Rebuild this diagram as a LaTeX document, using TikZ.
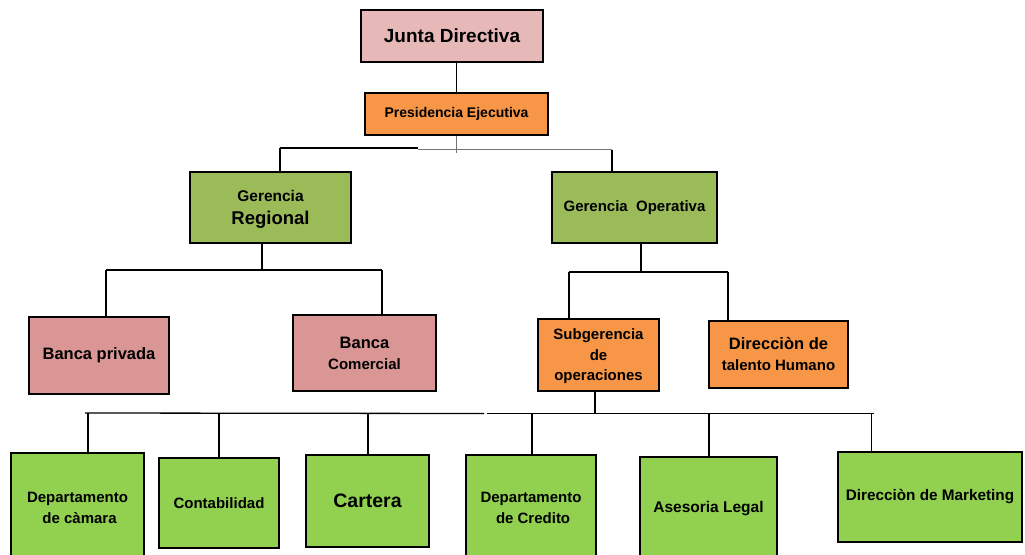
\documentclass[tikz,border=0pt]{standalone}
\usepackage{fontspec}
\setmainfont{Liberation Sans}
\definecolor{juntapink}{HTML}{E6B9B8}
\definecolor{orangebox}{HTML}{F79646}
\definecolor{olivegreen}{HTML}{9BBB59}
\definecolor{rosebox}{HTML}{D99694}
\definecolor{limegreen}{HTML}{92D050}
\newcommand{\fs}[2]{\fontsize{#1}{#2}\selectfont}
\tikzset{
  box/.style={draw=black, line width=2.4pt, align=center,
              font=\bfseries\fs{15}{21}, inner sep=0pt, text=black},
  conn/.style={line width=1.3pt, black},
  faint/.style={line width=0.9pt, black!55},
}
\begin{document}
\begin{tikzpicture}[x=1pt,y=-1pt]
\clip (0,0) rectangle (1025,554);
\fill[white] (0,0) rectangle (1025,554);

% top levels
\node[box, fill=juntapink, minimum width=182, minimum height=52,
      font=\bfseries\fs{19}{22}] (junta) at (452,36) {Junta Directiva};
\node[box, fill=orangebox, minimum width=183, minimum height=42,
      font=\bfseries\fs{14}{17}] (pres) at (456.5,114) {Presidencia Ejecutiva};

% management
\node[box, fill=olivegreen, minimum width=161, minimum height=71,
      font=\bfseries\fs{15.5}{23}, text depth=-2pt] (gr) at (270.5,207.5)
  {Gerencia\\{\fs{18.5}{20}Regional}};
\node[box, fill=olivegreen, minimum width=165, minimum height=71] (go) at (634.5,207.5)
  {Gerencia\ \ Operativa};

% banking units
\node[box, fill=rosebox, minimum width=140, minimum height=77,
      font=\bfseries\fs{16.5}{21}] (bp) at (99,355.5) {Banca privada};
\node[box, fill=rosebox, minimum width=143, minimum height=76] (bc) at (364.5,353)
  {{\fs{16.5}{21}Banca}\\Comercial};

% operational units
\node[box, fill=orangebox, minimum width=121, minimum height=72,
      font=\bfseries\fs{15}{20.5}, text depth=-2.5pt] (sub) at (598.5,355)
  {Subgerencia\\de\\operaciones};
\node[box, fill=orangebox, minimum width=139, minimum height=67] (dth) at (778.5,354.5)
  {{\fs{16.5}{21}Direcciòn de}\\talento Humano};

% departments
\node[box, fill=limegreen, minimum width=133, minimum height=110] (dcam) at (77.5,508)
  {Departamento\\\ de càmara};
\node[box, fill=limegreen, minimum width=120, minimum height=90] (cont) at (219,503)
  {Contabilidad};
\node[box, fill=limegreen, minimum width=123, minimum height=92,
      font=\bfseries\fs{19.5}{22}] (cart) at (367.5,501) {Cartera};
\node[box, fill=limegreen, minimum width=130, minimum height=106] (dcre) at (531,508)
  {Departamento\\\ de Credito};
\node[box, fill=limegreen, minimum width=137, minimum height=103,
      font=\bfseries\fs{15.5}{21}] (legal) at (708.5,508.5) {Asesoria Legal};
\node[box, fill=limegreen, minimum width=184, minimum height=90,
      font=\bfseries\fs{15.3}{21}] (mkt) at (930,497) {Direcciòn de Marketing};

% junta -> presidencia
\draw[conn] (pres.north |- junta.south) -- (pres.north);

% presidencia -> gerencias
\coordinate (tL) at (280,148);
\coordinate (tM) at (418,148);
\coordinate (tR) at (612,149.5);
\draw[faint] (pres.south) -- ++(0,17);
\draw[conn] (tL) -- (tM);
\draw[faint] (tM |- tR) -- (tR);
\draw[conn] (tL) -- (tL |- gr.north);
\draw[conn] (tR) -- (tR |- go.north);

% gerencia regional -> bancas
\coordinate (rC) at (262,270);
\coordinate (rL) at (106,270);
\coordinate (rR) at (382,270);
\draw[conn] (rC |- gr.south) -- (rC);
\draw[conn] (rL) -- (rR);
\draw[conn] (rL) -- (rL |- bp.north);
\draw[conn] (rR) -- (rR |- bc.north);

% gerencia operativa -> subgerencia, talento humano
\coordinate (oC) at (641,272);
\coordinate (oL) at (569,272);
\coordinate (oR) at (728,272);
\draw[conn] (oC |- go.south) -- (oC);
\draw[conn] (oL) -- (oR);
\draw[conn] (oL) -- (oL |- sub.north);
\draw[conn] (oR) -- (oR |- dth.north);

% subgerencia -> departments
\coordinate (sC) at (595,413.5);
\coordinate (sL) at (85,413);
\coordinate (sB) at (487,413.5);
\coordinate (sR) at (874,413.5);
\draw[conn] (sC |- sub.south) -- (sC);
\draw[conn] (sL) -- ([xshift=-3pt]sB);
\draw[conn] (sB) -- (sR);
\coordinate (d1) at (88,413);
\coordinate (d2) at (219,413);
\coordinate (d3) at (368,413);
\coordinate (d4) at (532,413.5);
\coordinate (d5) at (709,413.5);
\coordinate (d6) at (871.5,413.5);
\draw[conn] (d1) -- (d1 |- dcam.north);
\draw[conn] (d2) -- (d2 |- cont.north);
\draw[conn] (d3) -- (d3 |- cart.north);
\draw[conn] (d4) -- (d4 |- dcre.north);
\draw[conn] (d5) -- (d5 |- legal.north);
\draw[conn] (d6) -- (d6 |- mkt.north);
\end{tikzpicture}
\end{document}
